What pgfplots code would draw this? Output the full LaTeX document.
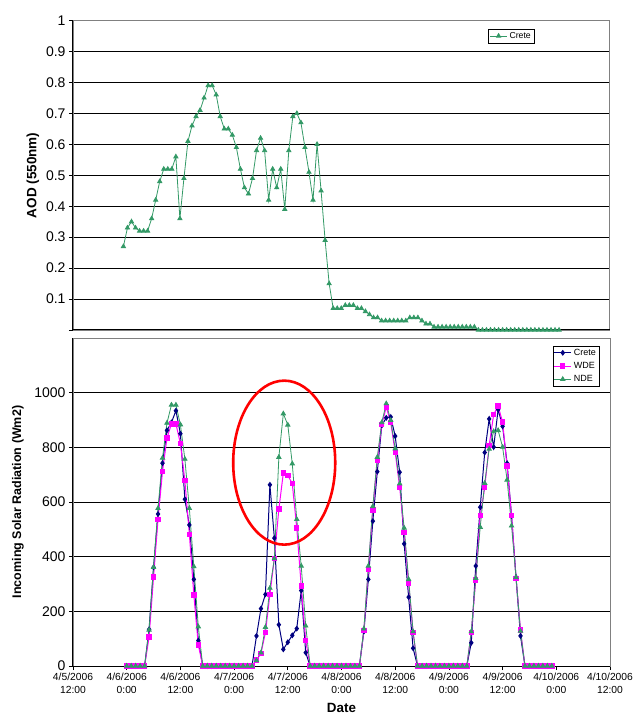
\documentclass[border=0pt]{standalone}
\usepackage{fontspec}
\setmainfont{Liberation Sans}
\usepackage{pgfplots}
\usepackage{pgfplotstable}
\pgfplotsset{compat=1.18}

\definecolor{seagreen}{HTML}{339966}
\definecolor{navyc}{HTML}{000080}
\definecolor{magc}{HTML}{FF00FF}

% AOD, one value per category (categories 13..121 of 133)
\pgfplotstableread{
x aod
13 0.27
14 0.33
15 0.35
16 0.33
17 0.32
18 0.32
19 0.32
20 0.36
21 0.42
22 0.48
23 0.52
24 0.52
25 0.52
26 0.56
27 0.36
28 0.49
29 0.61
30 0.66
31 0.69
32 0.71
33 0.75
34 0.79
35 0.79
36 0.76
37 0.69
38 0.65
39 0.65
40 0.63
41 0.59
42 0.52
43 0.46
44 0.44
45 0.49
46 0.58
47 0.62
48 0.58
49 0.42
50 0.52
51 0.46
52 0.52
53 0.39
54 0.58
55 0.69
56 0.70
57 0.67
58 0.59
59 0.51
60 0.42
61 0.60
62 0.45
63 0.29
64 0.15
65 0.07
66 0.07
67 0.07
68 0.08
69 0.08
70 0.08
71 0.07
72 0.07
73 0.06
74 0.05
75 0.04
76 0.04
77 0.03
78 0.03
79 0.03
80 0.03
81 0.03
82 0.03
83 0.03
84 0.04
85 0.04
86 0.04
87 0.03
88 0.02
89 0.02
90 0.01
91 0.01
92 0.01
93 0.01
94 0.01
95 0.01
96 0.01
97 0.01
98 0.01
99 0.01
100 0.01
101 0
102 0
103 0
104 0
105 0
106 0
107 0
108 0
109 0
110 0
111 0
112 0
113 0
114 0
115 0
116 0
117 0
118 0
119 0
120 0
121 0
}\aodtable

% hours after 4/5/2006 12:00
\pgfplotstableread{
h crete wde nde
12 0 0 0
13 0 0 0
14 0 0 0
15 0 0 0
16 0 0 0
17 134 106 132
18 361 325 361
19 556 537 577
20 742 712 761
21 862 834 889
22 891 886 955
23 934 886 955
24 850 814 883
25 610 678 757
26 516 482 577
27 317 260 364
28 93 77 144
29 0 0 0
30 0 0 0
31 0 0 0
32 0 0 0
33 0 0 0
34 0 0 0
35 0 0 0
36 0 0 0
37 0 0 0
38 0 0 0
39 0 0 0
40 0 0 0
41 110 22 20
42 210 46 49
43 262 122 142
44 663 262 285
45 468 394 393
46 151 574 764
47 61 706 923
48 87 698 882
49 112 667 740
50 137 505 537
51 276 293 366
52 49 93 147
53 0 0 0
54 0 0 0
55 0 0 0
56 0 0 0
57 0 0 0
58 0 0 0
59 0 0 0
60 0 0 0
61 0 0 0
62 0 0 0
63 0 0 0
64 0 0 0
65 126 129 136
66 317 354 366
67 530 571 584
68 711 752 764
69 880 883 891
70 908 947 960
71 911 891 899
72 841 781 795
73 709 654 667
74 447 488 505
75 252 303 317
76 65 122 126
77 0 0 0
78 0 0 0
79 0 0 0
80 0 0 0
81 0 0 0
82 0 0 0
83 0 0 0
84 0 0 0
85 0 0 0
86 0 0 0
87 0 0 0
88 0 0 0
89 85 122 126
90 366 315 321
91 581 550 508
92 781 652 669
93 904 807 794
94 801 920 858
95 938 951 862
96 877 892 801
97 742 731 681
98 549 550 513
99 325 321 325
100 110 132 128
101 0 0 0
102 0 0 0
103 0 0 0
104 0 0 0
105 0 0 0
106 0 0 0
107 0 0 0
}\radtable

\pgfplotsset{
  excel/.style={
    scale only axis,
    clip=false,
    axis line style={draw=gray, line width=0.8pt},
    ymajorgrids,
    grid style={black, line width=0.8pt},
    tick align=outside,
    major tick length=4pt,
    tick style={black, line width=0.8pt},
    ytick pos=left, xtick pos=left,
    /pgf/number format/assume math mode=true,
    /pgf/number format/set thousands separator={},
    yticklabel style={font=\fontsize{14}{16}\selectfont},
    legend cell align=left,
  },
}

\begin{document}
\begin{tikzpicture}
\useasboundingbox (0,0) rectangle (635pt,715pt);

% top: AOD
\begin{axis}[excel,
  at={(73pt,385pt)}, anchor=south west,
  width=536.5pt, height=309.5pt,
  xmin=0.5, xmax=133.5, xtick=\empty,
  ymin=0, ymax=1,
  ytick={0,0.1,0.2,0.3,0.4,0.5,0.6,0.7,0.8,0.9,1},
  yticklabels={,0.1,0.2,0.3,0.4,0.5,0.6,0.7,0.8,0.9,1},
  ylabel={\bfseries AOD (550nm)},
  ylabel style={at={(axis description cs:-0.0746,0.5)}, anchor=center, font=\fontsize{13.5}{15}\selectfont},
  legend style={at={(axis description cs:1,1)}, anchor=north east, xshift=-75.5pt, yshift=-8.5pt,
    font=\fontsize{8.7}{10}\selectfont, draw=black, inner sep=1pt, row sep=-1pt},
]
\addplot[seagreen, line width=0.8pt, mark=triangle*, mark size=2.4pt, mark options={fill=seagreen, draw=seagreen}]
  table[x=x, y=aod] {\aodtable};
\legend{Crete}
\draw[black, line width=1pt] (rel axis cs:0,0) -- (rel axis cs:0,1);
\draw[black, line width=1pt] (rel axis cs:0,0) -- (rel axis cs:1,0);
\end{axis}

% bottom: incoming solar radiation
\begin{axis}[excel,
  at={(73pt,49pt)}, anchor=south west,
  width=537pt, height=328pt,
  xmin=0, xmax=120,
  xtick={0,12,24,36,48,60,72,84,96,108,120},
  xticklabels={{4/5/2006\\12:00},{4/6/2006\\0:00},{4/6/2006\\12:00},{4/7/2006\\0:00},{4/7/2006\\12:00},
    {4/8/2006\\0:00},{4/8/2006\\12:00},{4/9/2006\\0:00},{4/9/2006\\12:00},{4/10/2006\\0:00},{4/10/2006\\12:00}},
  xticklabel style={align=center, font=\fontsize{10.3}{12.5}\selectfont},
  ymin=0, ymax=1200,
  ytick={0,200,400,600,800,1000},
  ylabel={\bfseries Incoming Solar Radiation (Wm2)},
  ylabel style={at={(axis description cs:-0.1024,0.5)}, anchor=center, font=\fontsize{12.5}{14}\selectfont},
  xlabel={\bfseries Date},
  xlabel style={at={(axis description cs:0.5,0)}, anchor=base, yshift=-46pt, font=\fontsize{13.4}{15}\selectfont},
  legend style={at={(axis description cs:1,1)}, anchor=north east, xshift=-11pt, yshift=-7.7pt,
    font=\fontsize{9}{11}\selectfont, draw=black, inner sep=1pt, row sep=1.5pt},
]
\addplot[navyc, line width=1pt, mark=diamond*, mark size=2.2pt, mark options={fill=navyc, draw=navyc}]
  table[x=h, y=crete] {\radtable};
\addplot[magc, line width=1pt, mark=square*, mark size=2.2pt, mark options={fill=magc, draw=magc}]
  table[x=h, y=wde] {\radtable};
\addplot[seagreen, line width=0.8pt, mark=triangle*, mark size=2.5pt, mark options={fill=seagreen, draw=seagreen}]
  table[x=h, y=nde] {\radtable};
\legend{Crete,WDE,NDE}
\draw[red, line width=2.6pt] (axis cs:47.2,744) ellipse [x radius=11.4, y radius=300];
\draw[black, line width=1pt] (rel axis cs:0,0) -- (rel axis cs:0,1);
\draw[black, line width=1pt] (rel axis cs:0,0) -- (rel axis cs:1,0);
\end{axis}
\end{tikzpicture}
\end{document}
